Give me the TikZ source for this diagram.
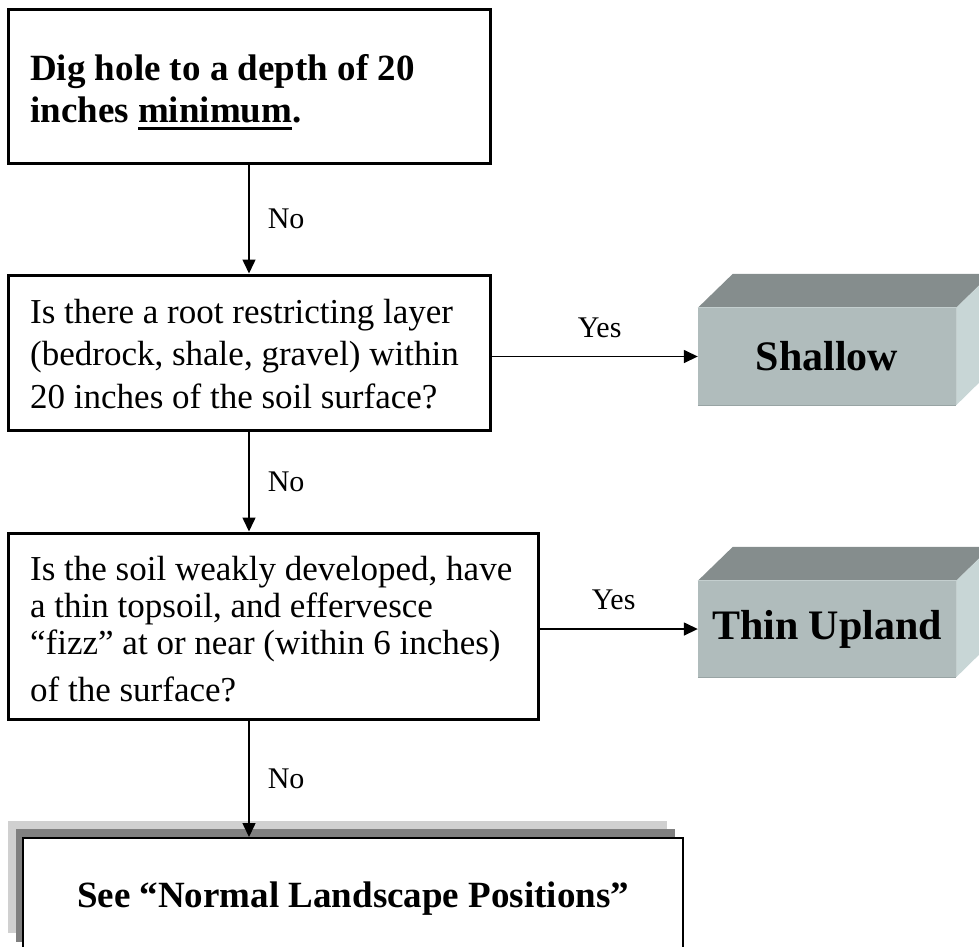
\documentclass[tikz,border=0pt]{standalone}
\usepackage{fontspec}
\setmainfont{Liberation Serif}
\usetikzlibrary{arrows.meta}
\definecolor{cubetop}{HTML}{858D8D}
\definecolor{cubefront}{HTML}{B0BCBC}
\definecolor{cuberight}{HTML}{C8D6D6}
\definecolor{cubeedge}{HTML}{98A4A4}
\definecolor{cubelight}{HTML}{C4CFCF}
\definecolor{shadelight}{HTML}{D0D0D0}
\definecolor{shadedark}{HTML}{808080}
\newcommand{\thickul}[1]{{\setbox0\hbox{#1}\rlap{\rule[-7pt]{\wd0}{3pt}}\box0}}
\begin{document}
\begin{tikzpicture}[x=1pt,y=-1pt,
  box/.style={draw, line width=3pt, rectangle, inner sep=0pt},
  para/.style={anchor=north west, inner sep=0pt, align=left},
  regtxt/.style={font=\fontsize{35}{42.5}\selectfont},
  boldtxt/.style={font=\fontsize{37}{42}\selectfont\bfseries},
  cube/.style={fill=cubefront, rectangle, inner sep=0pt, minimum width=258pt,
               font=\fontsize{42}{48}\selectfont\bfseries},
  conn/.style={line width=1.5pt, -{Triangle[length=14pt,width=13pt]}},
  lab/.style={font=\fontsize{30}{34}\selectfont, inner sep=3pt}
]
\useasboundingbox (0,0) rectangle (979,946);

% boxes
\node[box, minimum width=482pt, minimum height=154pt] (b1) at (249,86) {};
\node[para, boldtxt] (t1) at (30,54.5)
  {Dig hole to a depth of 20\\inches \thickul{minimum}.};

\node[box, minimum width=482pt, minimum height=155pt] (b2) at (249,352.5) {};
\node[para, regtxt] (t2) at (30,299)
  {Is there a root restricting layer\\(bedrock, shale, gravel) within\\20 inches of the soil surface?};

\node[box, minimum width=530pt, minimum height=186pt] (b3) at (273,626) {};
\node[para, regtxt, font=\fontsize{35}{37}\selectfont] (t3) at (30,556)
  {Is the soil weakly developed, have\\a thin topsoil, and effervesce\\``fizz'' at or near (within 6 inches)\\[10pt]of the surface?};

% 3D result boxes
\node[cube, minimum height=97pt] (sh) at (827,356.5) {Shallow};
\fill[cubetop] (sh.north west) -- ++(35,-34) -- ++(258,0) -- (sh.north east) -- cycle;
\fill[cuberight] (sh.north east) -- ++(35,-34) -- ++(0,97) -- (sh.south east) -- cycle;
\draw[cubelight, line width=1pt] (sh.north west) -- (sh.north east) -- (sh.south east);
\draw[cubeedge, line width=1.2pt] (sh.south west) -- (sh.south east);

\node[cube, minimum height=96pt] (tu) at (827,629) {Thin Upland};
\fill[cubetop] (tu.north west) -- ++(35,-34) -- ++(258,0) -- (tu.north east) -- cycle;
\fill[cuberight] (tu.north east) -- ++(35,-34) -- ++(0,96) -- (tu.south east) -- cycle;
\draw[cubelight, line width=1pt] (tu.north west) -- (tu.north east) -- (tu.south east);
\draw[cubeedge, line width=1.2pt] (tu.south west) -- (tu.south east);

% final box with layered shadow
\fill[shadelight] (8,821) rectangle (667,933);
\fill[shadedark] (16,829) rectangle (675,942);
\node[draw, line width=2pt, fill=white, rectangle, inner sep=0pt,
      minimum width=660pt, minimum height=160pt, anchor=north] (nl) at (353,837) {};
\node[boldtxt, anchor=base, inner sep=0pt] (nlt) at (353,907)
  {See ``Normal Landscape Positions''};

% connectors
\draw[conn] (b1.south) -- (b2.north)
  node[lab, midway, right=15pt] (no1) {No};
\draw[conn] (b2.south) -- (b2.south |- b3.north)
  node[lab, midway, right=15pt] (no2) {No};
\draw[conn] (b3.south -| b1.south) -- (nl.north -| b1.south)
  node[lab, midway, right=15pt] (no3) {No};
\draw[conn] (sh.west -| b2.east) -- (sh.west)
  node[lab, midway, above=15pt, xshift=5pt] (yes1) {Yes};
\draw[conn] (tu.west -| b3.east) -- (tu.west)
  node[lab, midway, above=15pt, xshift=-5pt] (yes2) {Yes};
\end{tikzpicture}
\end{document}
